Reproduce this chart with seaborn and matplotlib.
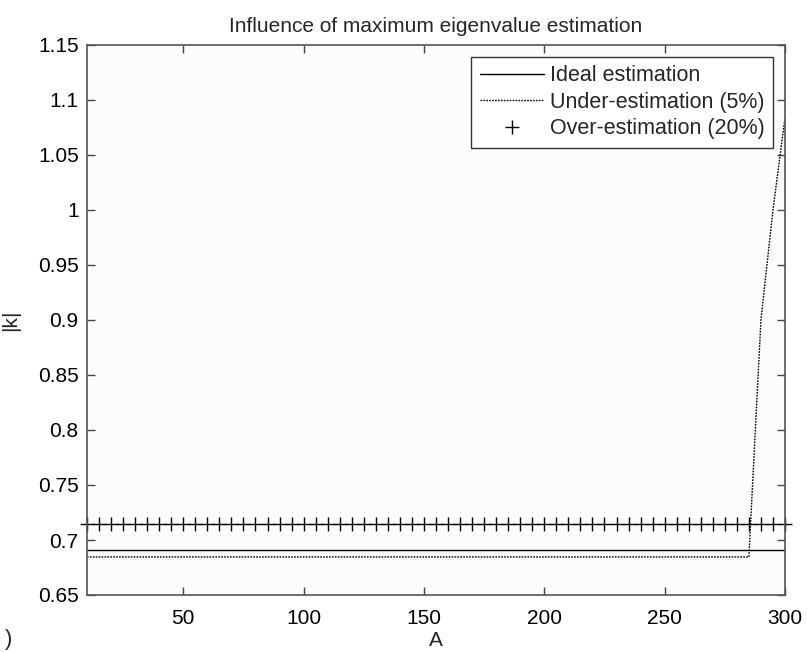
import numpy as np
import pandas as pd
import matplotlib
matplotlib.use("Agg")
import matplotlib.pyplot as plt
import seaborn as sns

# ---- data ----
x_ideal = [10, 300]
k_ideal = [0.6912, 0.6912]

x_under = [10, 50, 100, 150, 200, 250, 285, 290, 295, 300]
k_under = [0.6846, 0.6846, 0.6846, 0.6846, 0.6846, 0.6846, 0.6846, 0.900, 1.0, 1.084]

x_over = list(range(10, 301, 5))
k_over = [0.7145] * len(x_over)

x_ticks = [50, 100, 150, 200, 250, 300]
y_ticks = [0.65, 0.7, 0.75, 0.8, 0.85, 0.9, 0.95, 1, 1.05, 1.1, 1.15]
y_ticklabels = ["0.65", "0.7", "0.75", "0.8", "0.85", "0.9", "0.95", "1", "1.05", "1.1", "1.15"]

sns.set_style("white")
plt.rcParams['font.family'] = ['Liberation Sans', 'DejaVu Sans']

W, H = 807, 652
fig = plt.figure(figsize=(W / 100, H / 100), dpi=100)
fig.patch.set_facecolor("white")
L, R, T, B = 87, 785, 45, 595
ax = fig.add_axes([L / W, 1 - B / H, (R - L) / W, (B - T) / H])
ax.set_facecolor("#fcfcfc")

df_i = pd.DataFrame({"A": x_ideal, "k": k_ideal})
df_u = pd.DataFrame({"A": x_under, "k": k_under})
df_o = pd.DataFrame({"A": x_over, "k": k_over})

sns.lineplot(data=df_i, x="A", y="k", ax=ax, color="black", linewidth=1.0,
             label="Ideal estimation")
sns.lineplot(data=df_u, x="A", y="k", ax=ax, color="black", linewidth=1.0,
             linestyle=(0, (1.2, 0.9)), label="Under-estimation (5%)")
ax.plot(df_o["A"], df_o["k"], linestyle="none", marker="+", markersize=10,
        markeredgewidth=1.0, color="black", clip_on=False,
        label="Over-estimation (20%)")

ax.set_xlim(10, 300)
ax.set_ylim(0.65, 1.15)
ax.set_xticks(x_ticks)
ax.set_xticklabels([str(t) for t in x_ticks])
ax.set_yticks(y_ticks)
ax.set_yticklabels(y_ticklabels)
ax.tick_params(direction="in", length=6, width=1, colors="#444444",
               labelcolor="black", labelsize=15, top=True, right=True,
               bottom=True, left=True)
ax.tick_params(axis="x", pad=10)
ax.tick_params(axis="y", pad=6)
for s in ax.spines.values():
    s.set_visible(True)
    s.set_color("#555555")
    s.set_linewidth(1.2)

ax.set_title("Influence of maximum eigenvalue estimation", fontsize=15, pad=9)
ax.set_xlabel("A", fontsize=15, labelpad=2)
ax.set_ylabel("|k|", fontsize=15)
ax.yaxis.set_label_coords((20 - L) / (R - L), 0.5)

leg = ax.legend(loc="upper right", fontsize=15.5, frameon=True, fancybox=False,
                edgecolor="#333333", framealpha=1, borderpad=0.4,
                labelspacing=0.25, handlelength=3.0, handletextpad=0.25,
                borderaxespad=0.55)
leg.get_frame().set_linewidth(1.0)

fig.text(5 / W, 1 - 640 / H, ")", fontsize=16, va="center", ha="left")

fig.savefig("out.png", dpi=100)
